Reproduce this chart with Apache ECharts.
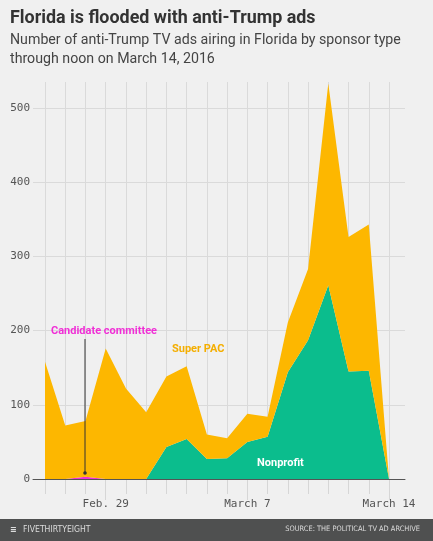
<!DOCTYPE html>
<html>
<head>
<meta charset="utf-8">
<script src="https://cdn.jsdelivr.net/npm/echarts@6/dist/echarts.min.js"></script>
<style>
html,body{margin:0;padding:0;background:#f0f0f0;}
#chart{width:433px;height:541px;}
</style>
</head>
<body>
<div id="chart"></div>
<script>
var categories = ['Feb. 26','Feb. 27','Feb. 28','Feb. 29','March 1','March 2','March 3','March 4','March 5','March 6','March 7','March 8','March 9','March 10','March 11','March 12','March 13','March 14'];
var labeledDays = ['Feb. 29','March 7','March 14'];
var candidateCommittee = [0,0,3,0,0,0,0,0,0,0,0,0,0,0,0,0,0,0];
var nonprofit = [0,0,0,0,0,0,43,54,27,28,50,57,144,187,261,145,146,0];
var superPAC = [158,72,75,176,122,90,95,98,33,27,38,27,67,96,272,181,197,0];
var yTicks = [0,100,200,300,400,500];

var mono = '"DejaVu Sans Mono", "Liberation Mono", monospace';
var sans = 'Roboto, "Noto Sans", sans-serif';
var cond = '"DejaVu Sans Condensed", "Liberation Sans Narrow", "DejaVu Sans", sans-serif';

var chart = echarts.init(document.getElementById('chart'));
var yMax = 535;
var gridColors = yTicks.map(function () { return '#dadada'; }).concat(['rgba(0,0,0,0)']);
var option = {
  backgroundColor: '#f0f0f0',
  animation: false,
  grid: [
    {left: 33, right: 28, top: 82, bottom: 62},
    {left: 45, right: 44, top: 82, bottom: 62}
  ],
  xAxis: [
    {gridIndex: 0, type: 'value', min: 0, max: 1, z: 10,
     axisLine: {show: true, lineStyle: {color: '#555', width: 1}},
     axisTick: {show: false}, axisLabel: {show: false}, splitLine: {show: false}},
    {gridIndex: 1, type: 'category', data: categories, boundaryGap: false, position: 'bottom',
     axisLine: {show: false},
     axisTick: {show: true, interval: 0, length: 15, lineStyle: {color: '#d6d6d6'}},
     axisLabel: {interval: function (i, v) { return labeledDays.indexOf(v) >= 0; },
                 margin: 20, color: '#555', fontFamily: mono, fontSize: 11},
     splitLine: {show: true, interval: 0, lineStyle: {color: '#dadada', width: 1}}},
    {gridIndex: 1, type: 'category', data: categories, boundaryGap: false, position: 'bottom',
     axisLine: {show: false},
     axisTick: {show: true, interval: function (i, v) { return labeledDays.indexOf(v) >= 0; }, length: 21, lineStyle: {color: '#d6d6d6'}},
     axisLabel: {show: false}, splitLine: {show: false}}
  ],
  yAxis: [
    {gridIndex: 0, type: 'value', min: 0, max: yMax, interval: 100,
     axisLine: {show: false}, axisTick: {show: false},
     axisLabel: {margin: 3, color: '#555', fontFamily: mono, fontSize: 11,
                 formatter: function (v) { return yTicks.indexOf(v) >= 0 ? String(v) : ''; }},
     splitLine: {show: true, lineStyle: {color: gridColors, width: 1}}},
    {gridIndex: 1, type: 'value', min: 0, max: yMax, show: false}
  ],
  series: [
    {name: 'Candidate committee', type: 'line', xAxisIndex: 1, yAxisIndex: 1, stack: 'ads',
     data: candidateCommittee, symbol: 'none', lineStyle: {width: 0},
     areaStyle: {color: '#f02fd6', opacity: 1}},
    {name: 'Nonprofit', type: 'line', xAxisIndex: 1, yAxisIndex: 1, stack: 'ads',
     data: nonprofit, symbol: 'none', lineStyle: {width: 0},
     areaStyle: {color: '#0bbd8d', opacity: 1}},
    {name: 'Super PAC', type: 'line', xAxisIndex: 1, yAxisIndex: 1, stack: 'ads',
     data: superPAC, symbol: 'none', lineStyle: {width: 0},
     areaStyle: {color: '#fdb700', opacity: 1}}
  ],
  graphic: [
    {type: 'text', left: 10, top: 10, style: {text: 'Florida is flooded with anti-Trump ads', fill: '#333', font: 'bold 17.9px ' + sans}},
    {type: 'text', left: 10, top: 31, style: {text: 'Number of anti-Trump TV ads airing in Florida by sponsor type\nthrough noon on March 14, 2016', fill: '#444', font: '14.2px ' + sans, lineHeight: 19}},
    {type: 'text', left: 51, top: 326, z: 20, style: {text: 'Candidate committee', fill: '#f02fd6', font: 'bold 11px ' + sans}},
    {type: 'line', z: 20, shape: {x1: 85, y1: 339, x2: 85, y2: 472}, style: {stroke: '#333', lineWidth: 1}},
    {type: 'circle', z: 20, shape: {cx: 85, cy: 473, r: 1.8}, style: {fill: '#333'}},
    {type: 'text', left: 172, top: 344, z: 20, style: {text: 'Super PAC', fill: '#f4ae00', font: 'bold 11px ' + sans}},
    {type: 'text', left: 257, top: 458, z: 20, style: {text: 'Nonprofit', fill: '#fff', font: 'bold 11px ' + sans}},
    {type: 'rect', z: 20, shape: {x: 0, y: 519, width: 433, height: 22}, style: {fill: '#4f5050'}},
    {type: 'text', left: 10, top: 525, z: 21, style: {text: '\u2261', fill: '#ddd', font: 'bold 9px ' + cond}},
    {type: 'text', left: 23, top: 525, z: 21, style: {text: 'FIVETHIRTYEIGHT', fill: '#ddd', font: '8.6px ' + cond}},
    {type: 'text', right: 13, top: 526, z: 21, style: {text: 'SOURCE: THE POLITICAL TV AD ARCHIVE', fill: '#ddd', font: '7.4px ' + cond}}
  ]
};
chart.setOption(option);
</script>
</body>
</html>
